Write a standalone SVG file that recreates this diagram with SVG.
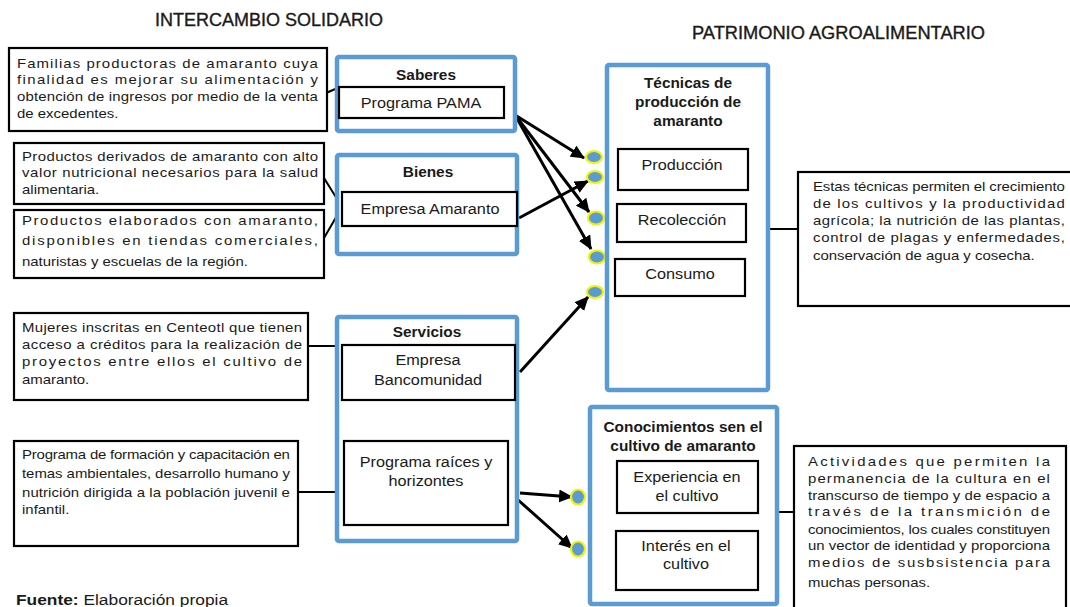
<svg xmlns="http://www.w3.org/2000/svg" width="1070" height="607" viewBox="0 0 1070 607">
<style>
text{font-family:"Liberation Sans",Arial,sans-serif;fill:#1a1a1a}
.h{font-size:17.5px;stroke:#1a1a1a;stroke-width:0.35}
.b{font-size:13px}
.n{font-size:14.5px;text-anchor:middle}
.t{font-size:14px;font-weight:bold;text-anchor:middle}
.blk{fill:#fff;stroke:#000;stroke-width:2.2}
.blue{fill:#fff;stroke:#5B9BD5;stroke-width:4.5}
.ln{stroke:#000;stroke-width:2;fill:none}
.ar{stroke:#000;stroke-width:3;fill:none;marker-end:url(#ah)}
.dot{fill:#5B9BD5;stroke:#F2F200;stroke-width:2.2}
</style>
<defs>
<marker id="ah" markerUnits="userSpaceOnUse" markerWidth="15" markerHeight="13" refX="13" refY="6.5" orient="auto">
<path d="M0,0 L14,6.5 L0,13 z" fill="#000"/>
</marker>
</defs>
<rect width="1070" height="607" fill="#fff"/>
<text class="h" x="155" y="26" textLength="228" lengthAdjust="spacingAndGlyphs">INTERCAMBIO SOLIDARIO</text>
<text class="h" x="692" y="39" textLength="293" lengthAdjust="spacingAndGlyphs">PATRIMONIO AGROALIMENTARIO</text>

<g id="connectors">
<path class="ln" d="M326,93 L340,87"/>
<path class="ln" d="M324,178 L342,207 L324,238"/>
<path class="ln" d="M308,346 L342,346"/>
<path class="ln" d="M298,492 L344,492"/>
<path class="ln" d="M768,229 L798,229"/>
<path class="ln" d="M777,512 L794,512"/>
<path class="ar" d="M515,115 L584,158"/>
<path class="ar" d="M515,115 L589,212"/>
<path class="ar" d="M515,115 L591,249"/>
<path class="ar" d="M519,218 L588,181"/>
<path class="ar" d="M520,372 L588,297"/>
<path class="ar" d="M520,493 L572,497"/>
<path class="ar" d="M517,499 L572,548"/>
</g>

<g id="dots">
<ellipse class="dot" cx="594" cy="157" rx="8" ry="6"/>
<ellipse class="dot" cx="595" cy="177" rx="8" ry="6"/>
<ellipse class="dot" cx="596" cy="218" rx="8" ry="6.5"/>
<ellipse class="dot" cx="597" cy="257" rx="8" ry="6.5"/>
<ellipse class="dot" cx="595" cy="292" rx="8" ry="6"/>
<ellipse class="dot" cx="578" cy="497" rx="7" ry="7.5"/>
<ellipse class="dot" cx="578" cy="549" rx="7" ry="7.5"/>
</g>

<g id="familias">
<rect class="blk" x="9" y="48" width="318" height="83"/>
<g transform="translate(17,0) scale(1.15,1)">
<text class="b" x="0" y="68" textLength="261.7" lengthAdjust="spacing">Familias productoras de amaranto cuya</text>
<text class="b" x="0" y="84" textLength="261.7" lengthAdjust="spacing">finalidad es mejorar su alimentación y</text>
<text class="b" x="0" y="101" textLength="261.7" lengthAdjust="spacing">obtención de ingresos por medio de la venta</text>
<text class="b" x="0" y="118">de excedentes.</text>
</g>
</g>

<g id="saberes">
<rect class="blue" x="337" y="57" width="178" height="74" rx="2"/>
<rect class="blk" x="339" y="87" width="165" height="31"/>
<g transform="translate(426,0) scale(1.1,1)"><text class="t" x="0" y="80">Saberes</text></g>
<g transform="translate(421,0) scale(1.12,1)"><text class="n" x="0" y="108">Programa PAMA</text></g>
</g>

<g id="derivados">
<rect class="blk" x="14" y="143" width="310" height="61"/>
<g transform="translate(22,0) scale(1.15,1)">
<text class="b" x="0" y="161" textLength="257.4" lengthAdjust="spacing">Productos derivados de amaranto con alto</text>
<text class="b" x="0" y="177" textLength="257.4" lengthAdjust="spacing">valor nutricional necesarios para la salud</text>
<text class="b" x="0" y="194">alimentaria.</text>
</g>
</g>

<g id="elaborados">
<rect class="blk" x="14" y="210" width="310" height="68"/>
<g transform="translate(22,0) scale(1.15,1)">
<text class="b" x="0" y="225" textLength="257.4" lengthAdjust="spacing">Productos elaborados con amaranto,</text>
<text class="b" x="0" y="245" textLength="257.4" lengthAdjust="spacing">disponibles en tiendas comerciales,</text>
<text class="b" x="0" y="266">naturistas y escuelas de la región.</text>
</g>
</g>

<g id="bienes">
<rect class="blue" x="337" y="155" width="180" height="99" rx="2"/>
<rect class="blk" x="342" y="192" width="175" height="34"/>
<g transform="translate(428,0) scale(1.1,1)"><text class="t" x="0" y="177">Bienes</text></g>
<g transform="translate(430,0) scale(1.12,1)"><text class="n" x="0" y="214">Empresa Amaranto</text></g>
</g>

<g id="mujeres">
<rect class="blk" x="14" y="313" width="294" height="87"/>
<g transform="translate(22,0) scale(1.15,1)">
<text class="b" x="0" y="332" textLength="243.5" lengthAdjust="spacing">Mujeres inscritas en Centeotl que tienen</text>
<text class="b" x="0" y="349" textLength="243.5" lengthAdjust="spacing">acceso a créditos para la realización de</text>
<text class="b" x="0" y="366" textLength="243.5" lengthAdjust="spacing">proyectos entre ellos el cultivo de</text>
<text class="b" x="0" y="384">amaranto.</text>
</g>
</g>

<g id="formacion">
<rect class="blk" x="14" y="441" width="284" height="105"/>
<g transform="translate(22,0) scale(1.15,1)">
<text class="b" x="0" y="459" textLength="233" lengthAdjust="spacing">Programa de formación y capacitación en</text>
<text class="b" x="0" y="478" textLength="233" lengthAdjust="spacing">temas ambientales, desarrollo humano y</text>
<text class="b" x="0" y="497" textLength="233" lengthAdjust="spacing">nutrición dirigida a la población juvenil e</text>
<text class="b" x="0" y="514">infantil.</text>
</g>
</g>

<g id="servicios">
<rect class="blue" x="337" y="317" width="180" height="224" rx="2"/>
<rect class="blk" x="342" y="345" width="173" height="55"/>
<rect class="blk" x="344" y="441" width="164" height="84"/>
<g transform="translate(427,0) scale(1.1,1)"><text class="t" x="0" y="337">Servicios</text></g>
<g transform="translate(428,0) scale(1.12,1)">
<text class="n" x="0" y="365">Empresa</text>
<text class="n" x="0" y="385">Bancomunidad</text>
</g>
<g transform="translate(426,0) scale(1.12,1)">
<text class="n" x="0" y="467">Programa raíces y</text>
<text class="n" x="0" y="486">horizontes</text>
</g>
</g>

<g id="tecnicas">
<rect class="blue" x="607" y="65" width="161" height="325" rx="2"/>
<rect class="blk" x="618" y="149" width="130" height="41"/>
<rect class="blk" x="617" y="204" width="129" height="38"/>
<rect class="blk" x="615" y="259" width="130" height="37"/>
<g transform="translate(688,0) scale(1.1,1)">
<text class="t" x="0" y="88" font-size="15px">Técnicas de</text>
<text class="t" x="0" y="107" font-size="15px">producción de</text>
<text class="t" x="0" y="126" font-size="15px">amaranto</text>
</g>
<g transform="translate(682,0) scale(1.12,1)"><text class="n" x="0" y="170">Producción</text></g>
<g transform="translate(682,0) scale(1.12,1)"><text class="n" x="0" y="225">Recolección</text></g>
<g transform="translate(680,0) scale(1.12,1)"><text class="n" x="0" y="279">Consumo</text></g>
</g>

<g id="nota-tecnicas">
<rect class="blk" x="798" y="172" width="280" height="134"/>
<g transform="translate(813,0) scale(1.15,1)">
<text class="b" x="0" y="191" textLength="219" lengthAdjust="spacing">Estas técnicas permiten el crecimiento</text>
<text class="b" x="0" y="208" textLength="219" lengthAdjust="spacing">de los cultivos y la productividad</text>
<text class="b" x="0" y="225" textLength="219" lengthAdjust="spacing">agrícola; la nutrición de las plantas,</text>
<text class="b" x="0" y="242" textLength="219" lengthAdjust="spacing">control de plagas y enfermedades,</text>
<text class="b" x="0" y="260">conservación de agua y cosecha.</text>
</g>
</g>

<g id="conocimientos">
<rect class="blue" x="590" y="407" width="187" height="197" rx="2"/>
<rect class="blk" x="617" y="461" width="141" height="52"/>
<rect class="blk" x="616" y="531" width="142" height="59"/>
<g transform="translate(683,0) scale(1.1,1)">
<text class="t" x="0" y="432">Conocimientos sen el</text>
<text class="t" x="0" y="451">cultivo de amaranto</text>
</g>
<g transform="translate(687,0) scale(1.12,1)">
<text class="n" x="0" y="482">Experiencia en</text>
<text class="n" x="0" y="501">el cultivo</text>
</g>
<g transform="translate(686,0) scale(1.12,1)">
<text class="n" x="0" y="551">Interés en el</text>
<text class="n" x="0" y="569">cultivo</text>
</g>
</g>

<g id="nota-conocimientos">
<rect class="blk" x="794" y="446" width="272" height="170"/>
<g transform="translate(808,0) scale(1.15,1)">
<text class="b" x="0" y="466" textLength="210.4" lengthAdjust="spacing">Actividades que permiten la</text>
<text class="b" x="0" y="483" textLength="210.4" lengthAdjust="spacing">permanencia de la cultura en el</text>
<text class="b" x="0" y="500" textLength="210.4" lengthAdjust="spacing">transcurso de tiempo y de espacio a</text>
<text class="b" x="0" y="516" textLength="210.4" lengthAdjust="spacing">través de la transmición de</text>
<text class="b" x="0" y="534" textLength="210.4" lengthAdjust="spacing">conocimientos, los cuales constituyen</text>
<text class="b" x="0" y="550" textLength="210.4" lengthAdjust="spacing">un vector de identidad y proporciona</text>
<text class="b" x="0" y="567" textLength="210.4" lengthAdjust="spacing">medios de susbsistencia para</text>
<text class="b" x="0" y="587">muchas personas.</text>
</g>
</g>

<g transform="translate(16,0) scale(1.12,1)">
<text x="0" y="605" font-size="15.5px"><tspan font-weight="bold">Fuente:</tspan> Elaboración propia</text>
</g>
</svg>
